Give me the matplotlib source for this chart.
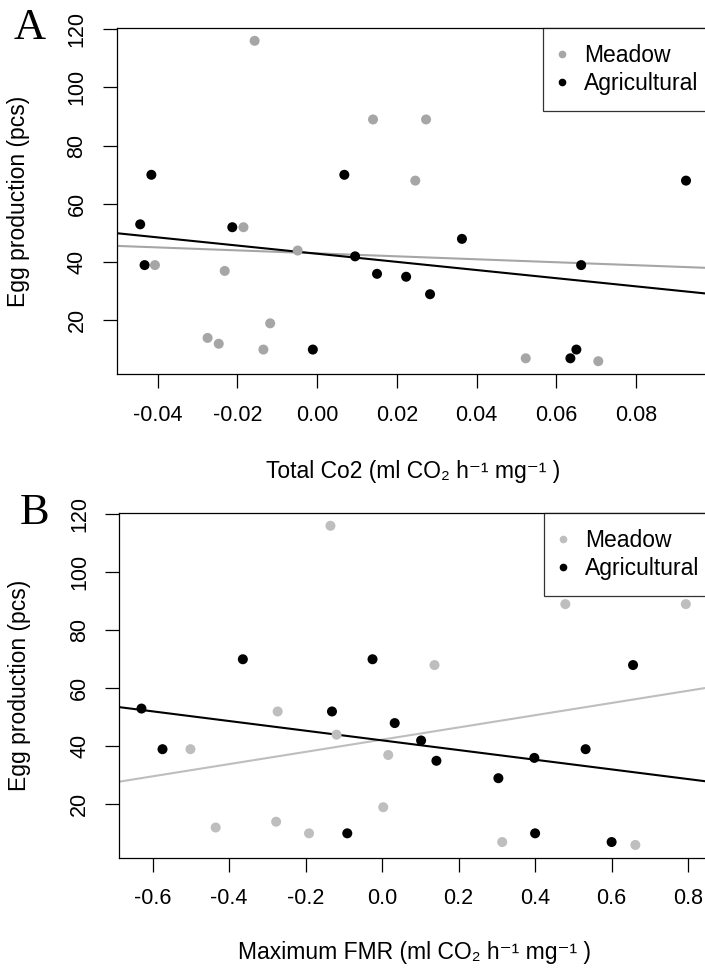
import numpy as np
import matplotlib
matplotlib.use('Agg')
import matplotlib.pyplot as plt
from matplotlib.lines import Line2D

plt.rcParams['font.family'] = ['Liberation Sans', 'DejaVu Sans']
plt.rcParams['axes.unicode_minus'] = False

# Panel A: egg production vs total CO2
a_meadow_x = [-0.0157, -0.0185, 0.0140, 0.0273, 0.0246, -0.0407, -0.0049,
              -0.0232, -0.0118, -0.0275, -0.0247, -0.0135, 0.0523, 0.0705]
a_meadow_y = [116, 52, 89, 89, 68, 39, 44, 37, 19, 14, 12, 10, 7, 6]
a_agri_x = [-0.0416, 0.0068, -0.0444, -0.0213, 0.0925, 0.0363, -0.0433,
            -0.0011, 0.0095, 0.0150, 0.0223, 0.0283, 0.0662, 0.0635, 0.0650]
a_agri_y = [70, 70, 53, 52, 68, 48, 39, 10, 42, 36, 35, 29, 39, 7, 10]

# Panel B: egg production vs maximum FMR
b_meadow_x = [-0.135, -0.273, 0.479, 0.794, 0.137, -0.501, -0.119,
              0.016, 0.003, -0.435, -0.277, -0.191, 0.314, 0.662]
b_meadow_y = [116, 52, 89, 89, 68, 39, 44, 37, 19, 12, 14, 10, 7, 6]
b_agri_x = [-0.364, -0.025, -0.629, -0.131, 0.656, 0.033, -0.574, 0.532,
            -0.091, 0.102, 0.142, 0.398, 0.304, 0.400, 0.600]
b_agri_y = [70, 70, 53, 52, 68, 48, 39, 39, 10, 42, 35, 36, 29, 10, 7]

a_xticks = [-0.04, -0.02, 0.00, 0.02, 0.04, 0.06, 0.08]
a_xticklabels = ['-0.04', '-0.02', '0.00', '0.02', '0.04', '0.06', '0.08']
b_xticks = [-0.6, -0.4, -0.2, 0.0, 0.2, 0.4, 0.6, 0.8]
b_xticklabels = ['-0.6', '-0.4', '-0.2', '0.0', '0.2', '0.4', '0.6', '0.8']
y_ticks = [20, 40, 60, 80, 100, 120]
groups = ['Meadow', 'Agricultural']


def draw_panel(ax, mx, my, gx, gy, gray, xlim, xticks, xticklabels, xlabel):
    ax.set_xlim(xlim)
    ax.set_ylim(1.6, 120.4)
    ax.scatter(mx, my, s=52, color=gray, edgecolors='none', zorder=3)
    ax.scatter(gx, gy, s=52, color='black', edgecolors='none', zorder=3)
    # least squares lines for each group
    xs = np.array(xlim)
    for x, y, c in [(mx, my, gray), (gx, gy, 'black')]:
        k, b = np.polyfit(x, y, 1)
        ax.plot(xs, k * xs + b, color=c, lw=1.5, zorder=2)
    ax.set_xticks(xticks)
    ax.set_xticklabels(xticklabels)
    ax.set_yticks(y_ticks)
    ax.set_yticklabels([str(t) for t in y_ticks], rotation=90, va='center')
    ax.tick_params(length=10, width=0.9, labelsize=15.5)
    ax.tick_params(axis='x', pad=12)
    ax.tick_params(axis='y', pad=11)
    for s in ax.spines.values():
        s.set_linewidth(0.9)
    ax.set_xlabel(xlabel, fontsize=16.5)
    ax.set_ylabel('Egg production (pcs)', fontsize=16.5)
    ax.yaxis.label.set_va('center')
    ax.xaxis.label.set_va('center')
    handles = [Line2D([], [], marker='o', ls='', color=gray, markersize=4.5),
               Line2D([], [], marker='o', ls='', color='black', markersize=4.5)]
    leg = ax.legend(handles, groups, loc='upper left', bbox_to_anchor=(0.7185, 1.0),
                    borderaxespad=0, fontsize=16.5, frameon=True, fancybox=False,
                    borderpad=0.7, labelspacing=0.2, handlelength=0.3,
                    handletextpad=0.8)
    leg.get_frame().set_edgecolor('black')
    leg.get_frame().set_linewidth(0.9)


fig = plt.figure(figsize=(7.05, 9.72), dpi=100)
ax_a = fig.add_axes([0.1655, 0.6152, 0.8415, 0.3560])
ax_b = fig.add_axes([0.1692, 0.1176, 0.8378, 0.3546])

draw_panel(ax_a, a_meadow_x, a_meadow_y, a_agri_x, a_agri_y, '#a6a6a6',
           (-0.0503, 0.0985), a_xticks, a_xticklabels,
           'Total Co2 (ml CO\u2082 h\u207b\u00b9 mg\u207b\u00b9 )')
draw_panel(ax_b, b_meadow_x, b_meadow_y, b_agri_x, b_agri_y, '#bebebe',
           (-0.687, 0.857), b_xticks, b_xticklabels,
           'Maximum FMR (ml CO\u2082 h\u207b\u00b9 mg\u207b\u00b9 )')

ax_a.xaxis.set_label_coords(0.5, -0.283)
ax_a.yaxis.set_label_coords(-0.165, 0.5)
ax_b.xaxis.set_label_coords(0.5, -0.274)
ax_b.yaxis.set_label_coords(-0.169, 0.5)

fig.text(30 / 705, 1 - 28 / 972, 'A', family='Liberation Serif', fontsize=32,
         ha='center', va='center')
fig.text(35 / 705, 1 - 513 / 972, 'B', family='Liberation Serif', fontsize=32,
         ha='center', va='center')

fig.savefig('out.png', dpi=100)
